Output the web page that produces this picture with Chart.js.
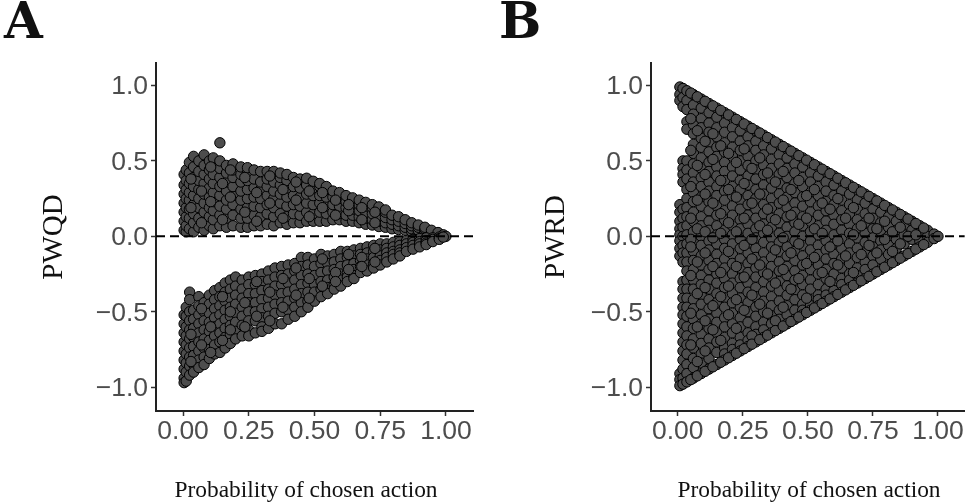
<!DOCTYPE html>
<html>
<head>
<meta charset="utf-8">
<script src="https://cdn.jsdelivr.net/npm/chart.js@4"></script>
<style>
  html, body { margin: 0; padding: 0; background: #fff; }
  body { width: 971px; height: 503px; position: relative; overflow: hidden; }
  canvas { position: absolute; top: 0; }
  .etiqueta { position: absolute; top: -9px; font: bold 50px "DejaVu Serif", serif; color: #111; }
  .ejeX { position: absolute; top: 477px; width: 300px; text-align: center; font: 23.4px/24px "Liberation Serif", serif; color: #111; white-space: nowrap; }
</style>
</head>
<body>
<canvas id="chartA" width="485" height="503" style="left:0"></canvas>
<canvas id="chartB" width="481" height="503" style="left:490px"></canvas>
<div class="etiqueta" style="left:4px">A</div>
<div class="etiqueta" style="left:499px">B</div>
<div class="ejeX" style="left:156px">Probability of chosen action</div>
<div class="ejeX" style="left:659px">Probability of chosen action</div>
<script>
// Ejes
const xTicks = [0, 0.25, 0.5, 0.75, 1];
const yTicks = [-1, -0.5, 0, 0.5, 1];
const xRange = [-0.103, 1.103];
const yRange = [-1.158, 1.149];

// Panel A: cada columna de X tiene su lista de valores
const pwqdUpperX = [0.004,0.012,0.024,0.04,0.06,0.08,0.10,0.115,0.14,0.165,0.19,0.22,0.245,0.27,0.295,0.32,0.345,0.37,0.395,0.42,0.445,0.47,0.495,0.52,0.545,0.57,0.595,0.62,0.645,0.67,0.695,0.72,0.745,0.77,0.795,0.82,0.845,0.87,0.895,0.92,0.945,0.97,0.99,1];
const pwqdUpperY = [
  [.04,.10,.16,.22,.28,.34,.41],
  [.03,.07,.13,.19,.25,.31,.37,.44],
  [.05,.12,.18,.24,.29,.35,.42,.49],
  [.03,.09,.15,.21,.27,.33,.39,.46,.53],
  [.06,.12,.19,.25,.31,.37,.43,.50],
  [.04,.10,.16,.22,.28,.35,.41,.47,.54],
  [.07,.13,.19,.26,.32,.38,.44,.50],
  [.05,.11,.17,.23,.29,.35,.41,.47,.52],
  [.07,.14,.20,.27,.33,.39,.45,.50,.62],
  [.06,.12,.18,.24,.30,.36,.42,.47],
  [.07,.14,.21,.27,.33,.39,.44,.48],
  [.06,.12,.18,.24,.30,.36,.41,.46],
  [.06,.12,.19,.25,.31,.37,.42,.455],
  [.07,.14,.20,.26,.32,.38,.44],
  [.07,.13,.19,.25,.31,.36,.43],
  [.08,.15,.21,.27,.33,.38,.43],
  [.07,.13,.19,.25,.30,.36,.43],
  [.09,.15,.22,.28,.34,.39,.42],
  [.08,.13,.20,.26,.32,.37,.41],
  [.09,.15,.21,.27,.33,.39],
  [.09,.14,.20,.26,.32,.38],
  [.10,.16,.22,.28,.34,.385],
  [.10,.15,.21,.27,.32,.365],
  [.10,.16,.22,.27,.33,.35],
  [.10,.15,.20,.26,.31,.33],
  [.11,.16,.21,.26,.30],
  [.11,.15,.20,.25,.29],
  [.10,.14,.19,.23,.27],
  [.10,.14,.18,.22,.255],
  [.09,.13,.17,.21,.24],
  [.08,.12,.16,.20,.225],
  [.075,.11,.15,.19,.21],
  [.065,.10,.14,.175,.195],
  [.06,.09,.125,.16,.175],
  [.05,.08,.11,.14],
  [.045,.07,.10,.13],
  [.04,.06,.085,.11],
  [.03,.05,.07,.09],
  [.02,.04,.06,.075],
  [.015,.03,.05,.06],
  [.01,.02,.04],
  [.005,.015,.025],
  [0,.01],
  [0]
];
const pwqdLowerX = [0.004,0.012,0.025,0.04,0.06,0.08,0.10,0.12,0.14,0.16,0.18,0.20,0.225,0.25,0.275,0.30,0.325,0.35,0.375,0.40,0.425,0.45,0.475,0.50,0.525,0.55,0.575,0.60,0.625,0.65,0.675,0.70,0.725,0.75,0.775,0.80,0.825,0.85,0.875,0.90,0.925,0.95,0.975,0.99];
const pwqdLowerY = [
  [-.52,-.58,-.64,-.70,-.76,-.82,-.88,-.94,-.97],
  [-.47,-.53,-.60,-.66,-.72,-.78,-.84,-.90,-.96],
  [-.37,-.42,-.50,-.56,-.62,-.68,-.74,-.80,-.86,-.92],
  [-.49,-.55,-.61,-.67,-.73,-.79,-.85,-.90],
  [-.40,-.46,-.52,-.58,-.64,-.70,-.76,-.82,-.87],
  [-.44,-.50,-.56,-.62,-.68,-.74,-.80,-.85],
  [-.39,-.45,-.51,-.57,-.63,-.69,-.75,-.81],
  [-.36,-.42,-.48,-.54,-.60,-.66,-.72,-.78],
  [-.34,-.40,-.46,-.52,-.58,-.64,-.70,-.77],
  [-.31,-.37,-.43,-.49,-.55,-.61,-.67,-.74],
  [-.29,-.35,-.41,-.47,-.53,-.59,-.65,-.71],
  [-.27,-.33,-.39,-.45,-.51,-.57,-.63,-.68],
  [-.29,-.35,-.41,-.47,-.53,-.59,-.66],
  [-.27,-.32,-.38,-.44,-.50,-.56,-.62,-.66],
  [-.26,-.32,-.38,-.44,-.50,-.56,-.64],
  [-.25,-.30,-.36,-.42,-.48,-.54,-.60,-.63],
  [-.23,-.29,-.35,-.41,-.47,-.53,-.61],
  [-.21,-.27,-.33,-.39,-.45,-.51,-.58],
  [-.20,-.26,-.32,-.38,-.44,-.50,-.58],
  [-.19,-.25,-.31,-.37,-.43,-.49,-.55],
  [-.18,-.23,-.29,-.35,-.41,-.47,-.53],
  [-.14,-.20,-.26,-.32,-.38,-.44,-.50],
  [-.14,-.19,-.25,-.31,-.37,-.43,-.47],
  [-.15,-.20,-.26,-.32,-.37,-.43],
  [-.12,-.18,-.24,-.30,-.35,-.40],
  [-.13,-.18,-.23,-.29,-.34,-.38],
  [-.12,-.17,-.22,-.27,-.32,-.35],
  [-.10,-.15,-.20,-.25,-.29,-.33],
  [-.10,-.14,-.19,-.24,-.27,-.30],
  [-.09,-.13,-.18,-.22,-.26,-.28],
  [-.08,-.12,-.16,-.20,-.24],
  [-.07,-.11,-.15,-.19,-.23],
  [-.06,-.10,-.14,-.18,-.21],
  [-.05,-.09,-.13,-.16,-.19],
  [-.05,-.08,-.11,-.14,-.17],
  [-.04,-.07,-.10,-.12,-.15],
  [-.035,-.06,-.09,-.11,-.13],
  [-.03,-.05,-.075,-.10],
  [-.02,-.04,-.06,-.085],
  [-.015,-.035,-.05,-.07],
  [-.01,-.03,-.045,-.055],
  [-.01,-.02,-.035],
  [-.005,-.015,-.02],
  [-.005]
];
const pwqdExtraX = [0.03,0.07,0.105,0.15,0.18,0.235,0.28,0.33,0.38,0.43,0.48,0.53,0.58,0.63,0.68,0.73];
const pwqdExtraY = [
  [.19,.38,-.65,-.83],
  [.09,.30,-.48,-.72],
  [.23,.46,-.60,-.77],
  [.11,.35,-.40,-.69],
  [.26,.44,-.50,-.62],
  [.16,.39,-.44,-.60],
  [.10,.29,-.30,-.53],
  [.22,.40,-.37,-.56],
  [.12,.31,-.28,-.47],
  [.24,.36,-.21,-.39],
  [.13,.30,-.28,-.41],
  [.19,.29,-.15,-.33],
  [.14,.24,-.24,-.30],
  [.17,.21,-.12,-.22],
  [.11,.19,-.14,-.20],
  [.09,.16,-.08,-.17]
];

// Panel B
const pwrdX = [0.008,0.02,0.035,0.06,0.09,0.12,0.15,0.18,0.21,0.24,0.27,0.30,0.33,0.36,0.39,0.42,0.45,0.48,0.51,0.54,0.57,0.60,0.63,0.66,0.69,0.72,0.75,0.78,0.81,0.84,0.87,0.90,0.93,0.96,0.985,1];
const pwrdY = [
  [.99,.94,.90,.21,.16,.10,.05,.01,-.03,-.08,-.13,-.91,-.95,-.99],
  [.98,.92,.86,.50,.45,.41,.36,.18,.12,.06,0,-.06,-.11,-.17,-.30,-.35,-.41,-.47,-.52,-.58,-.64,-.70,-.76,-.82,-.88,-.94,-.98],
  [.965,.90,.84,.76,.71,.50,.44,.38,.31,.25,.19,.13,.07,.01,-.05,-.11,-.17,-.23,-.29,-.35,-.41,-.47,-.53,-.60,-.66,-.72,-.78,-.85,-.91,-.965],
  [.94,.87,.81,.74,.68,.61,.55,.48,.42,.36,.29,.23,.16,.10,.03,-.03,-.10,-.16,-.22,-.29,-.35,-.42,-.48,-.55,-.61,-.68,-.74,-.81,-.87,-.94],
  [.91,.85,.78,.72,.65,.59,.52,.45,.39,.33,.26,.20,.13,.07,0,-.06,-.13,-.19,-.26,-.32,-.39,-.45,-.52,-.58,-.65,-.71,-.78,-.84,-.91],
  [.88,.82,.75,.69,.62,.56,.49,.43,.36,.30,.23,.17,.10,.04,-.03,-.09,-.16,-.22,-.29,-.35,-.42,-.48,-.55,-.61,-.68,-.74,-.81,-.88],
  [.85,.79,.72,.66,.59,.53,.46,.40,.33,.27,.20,.14,.07,.01,-.05,-.12,-.18,-.25,-.31,-.38,-.44,-.51,-.57,-.64,-.70,-.77,-.85],
  [.82,.75,.69,.62,.56,.49,.43,.37,.30,.24,.17,.11,.04,-.02,-.08,-.15,-.21,-.28,-.34,-.41,-.47,-.54,-.60,-.67,-.74,-.78,-.82],
  [.79,.72,.66,.59,.53,.46,.40,.33,.27,.20,.14,.07,.01,-.05,-.12,-.18,-.25,-.31,-.38,-.44,-.51,-.58,-.64,-.71,-.75,-.79],
  [.76,.70,.63,.57,.50,.44,.37,.31,.24,.18,.11,.05,-.02,-.08,-.15,-.21,-.28,-.34,-.41,-.47,-.54,-.60,-.67,-.72,-.76],
  [.73,.66,.60,.53,.47,.40,.34,.27,.21,.14,.08,.02,-.05,-.11,-.18,-.24,-.31,-.37,-.44,-.50,-.57,-.64,-.69,-.73],
  [.70,.63,.57,.50,.44,.38,.31,.25,.18,.12,.05,-.01,-.08,-.14,-.21,-.27,-.34,-.40,-.47,-.53,-.60,-.65,-.70],
  [.67,.60,.54,.47,.41,.34,.28,.21,.15,.08,.02,-.04,-.11,-.17,-.24,-.30,-.37,-.43,-.50,-.57,-.62,-.67],
  [.64,.58,.51,.45,.38,.32,.25,.19,.12,.06,-.01,-.07,-.14,-.20,-.27,-.33,-.40,-.46,-.53,-.58,-.64],
  [.61,.54,.48,.41,.35,.28,.22,.15,.09,.02,-.04,-.10,-.17,-.23,-.30,-.36,-.43,-.49,-.55,-.61],
  [.58,.52,.45,.39,.32,.26,.19,.13,.06,0,-.07,-.13,-.20,-.26,-.33,-.39,-.46,-.52,-.58],
  [.55,.48,.42,.35,.29,.22,.16,.09,.03,-.03,-.10,-.16,-.23,-.29,-.36,-.42,-.49,-.55],
  [.52,.46,.39,.33,.26,.20,.13,.07,0,-.06,-.13,-.19,-.26,-.32,-.39,-.45,-.49,-.52],
  [.49,.42,.36,.29,.23,.16,.10,.03,-.03,-.09,-.16,-.22,-.29,-.35,-.42,-.46,-.49],
  [.46,.40,.33,.27,.20,.14,.07,.01,-.06,-.12,-.19,-.25,-.32,-.39,-.42,-.46],
  [.43,.36,.30,.23,.17,.10,.04,-.03,-.09,-.15,-.22,-.28,-.35,-.39,-.43],
  [.40,.34,.27,.21,.14,.08,.01,-.05,-.12,-.18,-.25,-.32,-.36,-.40],
  [.37,.30,.24,.17,.11,.04,-.02,-.08,-.15,-.21,-.28,-.32,-.37],
  [.34,.28,.21,.15,.08,.02,-.05,-.11,-.18,-.25,-.29,-.34],
  [.31,.24,.18,.11,.05,-.01,-.08,-.14,-.21,-.26,-.31],
  [.28,.22,.15,.09,.02,-.04,-.11,-.17,-.22,-.28],
  [.25,.18,.12,.05,-.01,-.07,-.13,-.19,-.25],
  [.22,.16,.09,.03,-.03,-.09,-.15,-.22],
  [.19,.13,.06,0,-.06,-.12,-.19],
  [.16,.10,.04,-.02,-.08,-.16],
  [.13,.07,.01,-.05,-.13],
  [.10,.04,-.02,-.10],
  [.07,.02,-.03,-.07],
  [.04,0,-.04],
  [.015,-.015],
  [0]
];
const pwrdExtraX = [0.05,0.075,0.105,0.135,0.165,0.195,0.225,0.255,0.285,0.315,0.345,0.375,0.405,0.435,0.465,0.495,0.525,0.555,0.585,0.615,0.645,0.675,0.705,0.735,0.765,0.795,0.825,0.855,0.885,0.915,0.945];
const pwrdExtraY = [
  [.95,.78,.57,.33,.12,-.02,-.07,-.26,-.51,-.72,-.95],
  [.925,.70,.47,.24,.05,-.17,-.38,-.60,-.83,-.925],
  [.895,.63,.41,.28,.03,-.11,-.34,-.56,-.76,-.895],
  [.865,.68,.51,.22,-.01,-.20,-.46,-.62,-.865],
  [.835,.60,.37,.15,.02,-.24,-.40,-.69,-.835],
  [.805,.55,.31,.09,-.10,-.33,-.52,-.805],
  [.775,.49,.26,.03,-.20,-.42,-.61,-.775],
  [.745,.58,.35,.12,-.06,-.27,-.49,-.745],
  [.715,.45,.22,-.02,-.15,-.39,-.66,-.715],
  [.685,.52,.28,.07,-.19,-.45,-.685],
  [.655,.42,.18,.04,-.25,-.51,-.655],
  [.625,.36,.11,-.09,-.31,-.56,-.625],
  [.595,.43,.24,-.01,-.22,-.47,-.595],
  [.565,.31,.14,-.11,-.35,-.565],
  [.535,.37,.08,-.05,-.28,-.535],
  [.505,.27,.12,-.18,-.41,-.505],
  [.475,.31,.05,-.14,-.475],
  [.445,.22,.02,-.24,-.445],
  [.415,.18,-.07,-.30,-.415],
  [.385,.25,-.03,-.19,-.385],
  [.355,.12,-.13,-.355],
  [.325,.19,.01,-.24,-.325],
  [.295,.07,-.12,-.295],
  [.265,.12,-.06,-.265],
  [.235,.05,-.11,-.235],
  [.205,.10,-.02,-.205],
  [.175,.03,-.10,-.175],
  [.145,.06,-.05,-.145],
  [.115,0,-.115],
  [.085,.01,-.085],
  [.055,-.055]
];

// Pasa las columnas a la lista de puntos que espera Chart.js
function aPuntos(xs, columnas) {
  const puntos = [];
  xs.forEach((x, i) => columnas[i].forEach(y => puntos.push({ x: x, y: y })));
  return puntos;
}

function crearPanel(id, yLabel, puntos, anchoEjeY, derecha, margenTitulo) {
  return new Chart(document.getElementById(id), {
    type: "scatter",
    data: {
      datasets: [
        {
          // linea de referencia en cero, por encima de los puntos
          data: xRange.map(x => ({ x: x, y: 0 })),
          showLine: true,
          pointRadius: 0,
          borderColor: "#000",
          borderWidth: 2,
          borderDash: [9, 5]
        },
        {
          data: puntos,
          pointRadius: 5.2,
          pointBorderWidth: 1,
          pointBackgroundColor: "#4d4d4d",
          pointBorderColor: "#000"
        }
      ]
    },
    options: {
      responsive: false,
      animation: false,
      layout: { padding: { top: 63, right: derecha, bottom: 2, left: 0 } },
      plugins: { legend: { display: false }, tooltip: { enabled: false } },
      scales: {
        x: {
          type: "linear",
          min: xRange[0],
          max: xRange[1],
          afterBuildTicks: s => { s.ticks = xTicks.map(v => ({ value: v })); },
          afterFit: s => { s.height = 90; },
          grid: { drawOnChartArea: false, tickLength: 5, tickColor: "#333", tickWidth: 1.5 },
          border: { color: "#222", width: 2 },
          ticks: {
            autoSkip: false,
            maxRotation: 0,
            padding: 0,
            color: "#4d4d4d",
            font: { family: "Liberation Sans", size: 26.5 },
            callback: v => v.toFixed(2)
          }
        },
        y: {
          type: "linear",
          min: yRange[0],
          max: yRange[1],
          afterBuildTicks: s => { s.ticks = yTicks.map(v => ({ value: v })); },
          afterFit: s => { s.width = anchoEjeY; },
          grid: { drawOnChartArea: false, tickLength: 5, tickColor: "#333", tickWidth: 1.5 },
          border: { color: "#222", width: 2 },
          ticks: {
            autoSkip: false,
            padding: 3,
            labelOffset: 1.5,
            color: "#4d4d4d",
            font: { family: "Liberation Sans", size: 26.5 },
            callback: v => v.toFixed(1).replace("-", "\u2212")
          },
          title: {
            display: true,
            text: yLabel,
            color: "#111",
            font: { family: "Liberation Serif", size: 29 },
            padding: { top: margenTitulo, bottom: 0 }
          }
        }
      }
    }
  });
}

const puntosA = aPuntos(pwqdUpperX, pwqdUpperY).concat(aPuntos(pwqdLowerX, pwqdLowerY), aPuntos(pwqdExtraX, pwqdExtraY));
const puntosB = aPuntos(pwrdX, pwrdY).concat(aPuntos(pwrdExtraX, pwrdExtraY));
crearPanel("chartA", "PWQD", puntosA, 156, 12, 37);
crearPanel("chartB", "PWRD", puntosB, 161, 2, 49);
</script>
</body>
</html>
